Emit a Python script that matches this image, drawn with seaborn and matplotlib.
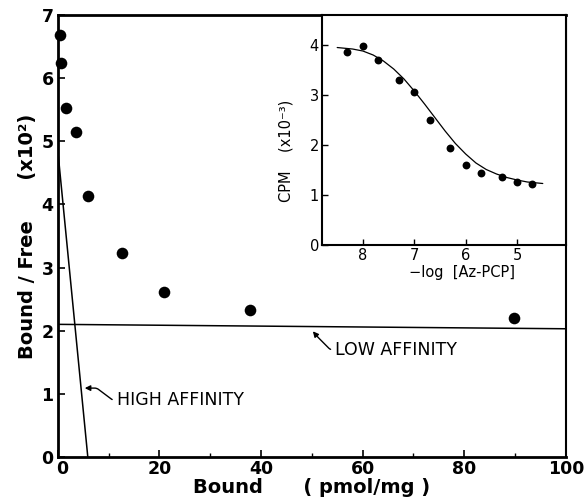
import numpy as np
import pandas as pd
import seaborn as sns
import matplotlib.pyplot as plt
import matplotlib.transforms as mtransforms
from matplotlib.ticker import MultipleLocator

# Scatchard plot data (bound in pmol/mg, bound/free x10^2)
bound = [0.4, 0.6, 1.7, 3.5, 5.9, 12.6, 20.9, 37.8, 89.8]
bound_free = [6.69, 6.24, 5.53, 5.15, 4.14, 3.23, 2.62, 2.33, 2.20]

# fitted components
high_x = [0, 5.9]
high_y = [4.85, 0]
low_x = [0, 100]
low_y = [2.10, 2.03]

# inset: displacement curve
neg_log = [8.3, 8.0, 7.7, 7.3, 7.0, 6.7, 6.3, 6.0, 5.7, 5.3, 5.0, 4.7]
cpm = [3.86, 3.98, 3.70, 3.30, 3.07, 2.51, 1.95, 1.61, 1.44, 1.36, 1.26, 1.22]
curve_x = [8.5, 8.2, 8.0, 7.8, 7.6, 7.4, 7.2, 7.0, 6.8, 6.6, 6.4, 6.2,
           6.0, 5.8, 5.6, 5.4, 5.2, 5.0, 4.8, 4.5]
curve_y = [3.95, 3.92, 3.88, 3.80, 3.68, 3.52, 3.32, 3.08, 2.82, 2.55, 2.28, 2.03,
           1.82, 1.64, 1.51, 1.42, 1.35, 1.30, 1.26, 1.23]

sns.set_style("ticks")
plt.rcParams['font.family'] = ['DejaVu Sans']
for key in ["text.color", "axes.labelcolor", "axes.edgecolor", "xtick.color", "ytick.color"]:
    plt.rcParams[key] = "black"

fig = plt.figure(figsize=(5.84, 5.01), dpi=100)
ax = fig.add_axes([0.099, 0.088, 0.870, 0.882])

df = pd.DataFrame({"bound": bound, "bf": bound_free})
sns.scatterplot(data=df, x="bound", y="bf", ax=ax, color="black", s=70,
                edgecolor="black", linewidth=0, zorder=3, clip_on=False)
sns.lineplot(x=high_x, y=high_y, ax=ax, color="black", lw=1.1)
sns.lineplot(x=low_x, y=low_y, ax=ax, color="black", lw=1.1)

ax.set_xlim(0, 100)
ax.set_ylim(0, 7)
ax.xaxis.set_major_locator(MultipleLocator(20))
ax.xaxis.set_minor_locator(MultipleLocator(10))
ax.yaxis.set_major_locator(MultipleLocator(1))
ax.tick_params(axis="both", which="major", direction="in", length=5, width=1.2,
               labelsize=12.5, pad=2)
ax.tick_params(axis="y", which="major", pad=3)
ax.tick_params(axis="x", which="minor", direction="in", length=3, width=1)
for side in ["left", "bottom", "top"]:
    ax.spines[side].set_linewidth(2)
ax.spines["right"].set_linewidth(1.5)

ax.set_xlabel("Bound      ( pmol/mg )", fontsize=14, fontweight="bold", labelpad=0)
ax.set_ylabel("Bound / Free      (x10²)", fontsize=14, fontweight="bold", labelpad=3)

ax.annotate("HIGH AFFINITY", xy=(5.3, 1.09), xytext=(11.6, 0.9),
            fontsize=12.5, va="center", ha="left",
            arrowprops=dict(arrowstyle="-|>", color="black", lw=1.0,
                            mutation_scale=8, shrinkA=1, shrinkB=0, relpos=(0, 0.5),
                            connectionstyle="arc,angleA=180,angleB=0,armA=4,armB=12,rad=2"))
ax.annotate("LOW AFFINITY", xy=(50.2, 1.99), xytext=(54.6, 1.7),
            fontsize=12.5, va="center", ha="left",
            arrowprops=dict(arrowstyle="-|>", color="black", lw=1.0,
                            mutation_scale=8, shrinkA=1, shrinkB=0, relpos=(0, 0.5),
                            connectionstyle="arc,angleA=180,angleB=-50,armA=5,armB=7,rad=2"))

# inset
ins = fig.add_axes([0.551, 0.511, 0.418, 0.459])
ins.set_facecolor("white")
sns.lineplot(x=curve_x, y=curve_y, ax=ins, color="black", lw=0.9, sort=False)
sns.scatterplot(x=neg_log, y=cpm, ax=ins, color="black", s=32, linewidth=0, zorder=3)
ins.set_xlim(8.8, 4.05)
ins.set_ylim(0, 4.6)
ins.xaxis.set_major_locator(MultipleLocator(1))
ins.yaxis.set_major_locator(MultipleLocator(1))
ins.tick_params(axis="both", direction="in", length=4, width=1, labelsize=10.5, pad=2)
for side in ["left", "bottom", "top", "right"]:
    ins.spines[side].set_linewidth(1.5)
ins.set_xlabel("−log  [Az-PCP]", fontsize=10.5)
ins.set_ylabel("CPM    (x10⁻³)", fontsize=10.5)
ins.xaxis.set_label_coords(0.576, -0.085)
ins.yaxis.set_label_coords(-0.115, 0.41)

# bold tick labels; nudge the x "0" off the y "0", as in the original
fig.canvas.draw()
for lab in ax.get_xticklabels() + ax.get_yticklabels():
    lab.set_fontweight("bold")
for tick in ax.xaxis.get_major_ticks():
    if abs(tick.get_loc()) < 1e-9:
        tick.label1.set_transform(tick.label1.get_transform()
                                  + mtransforms.ScaledTranslation(4 / 100, 0, fig.dpi_scale_trans))

fig.savefig("out.png", dpi=100)
